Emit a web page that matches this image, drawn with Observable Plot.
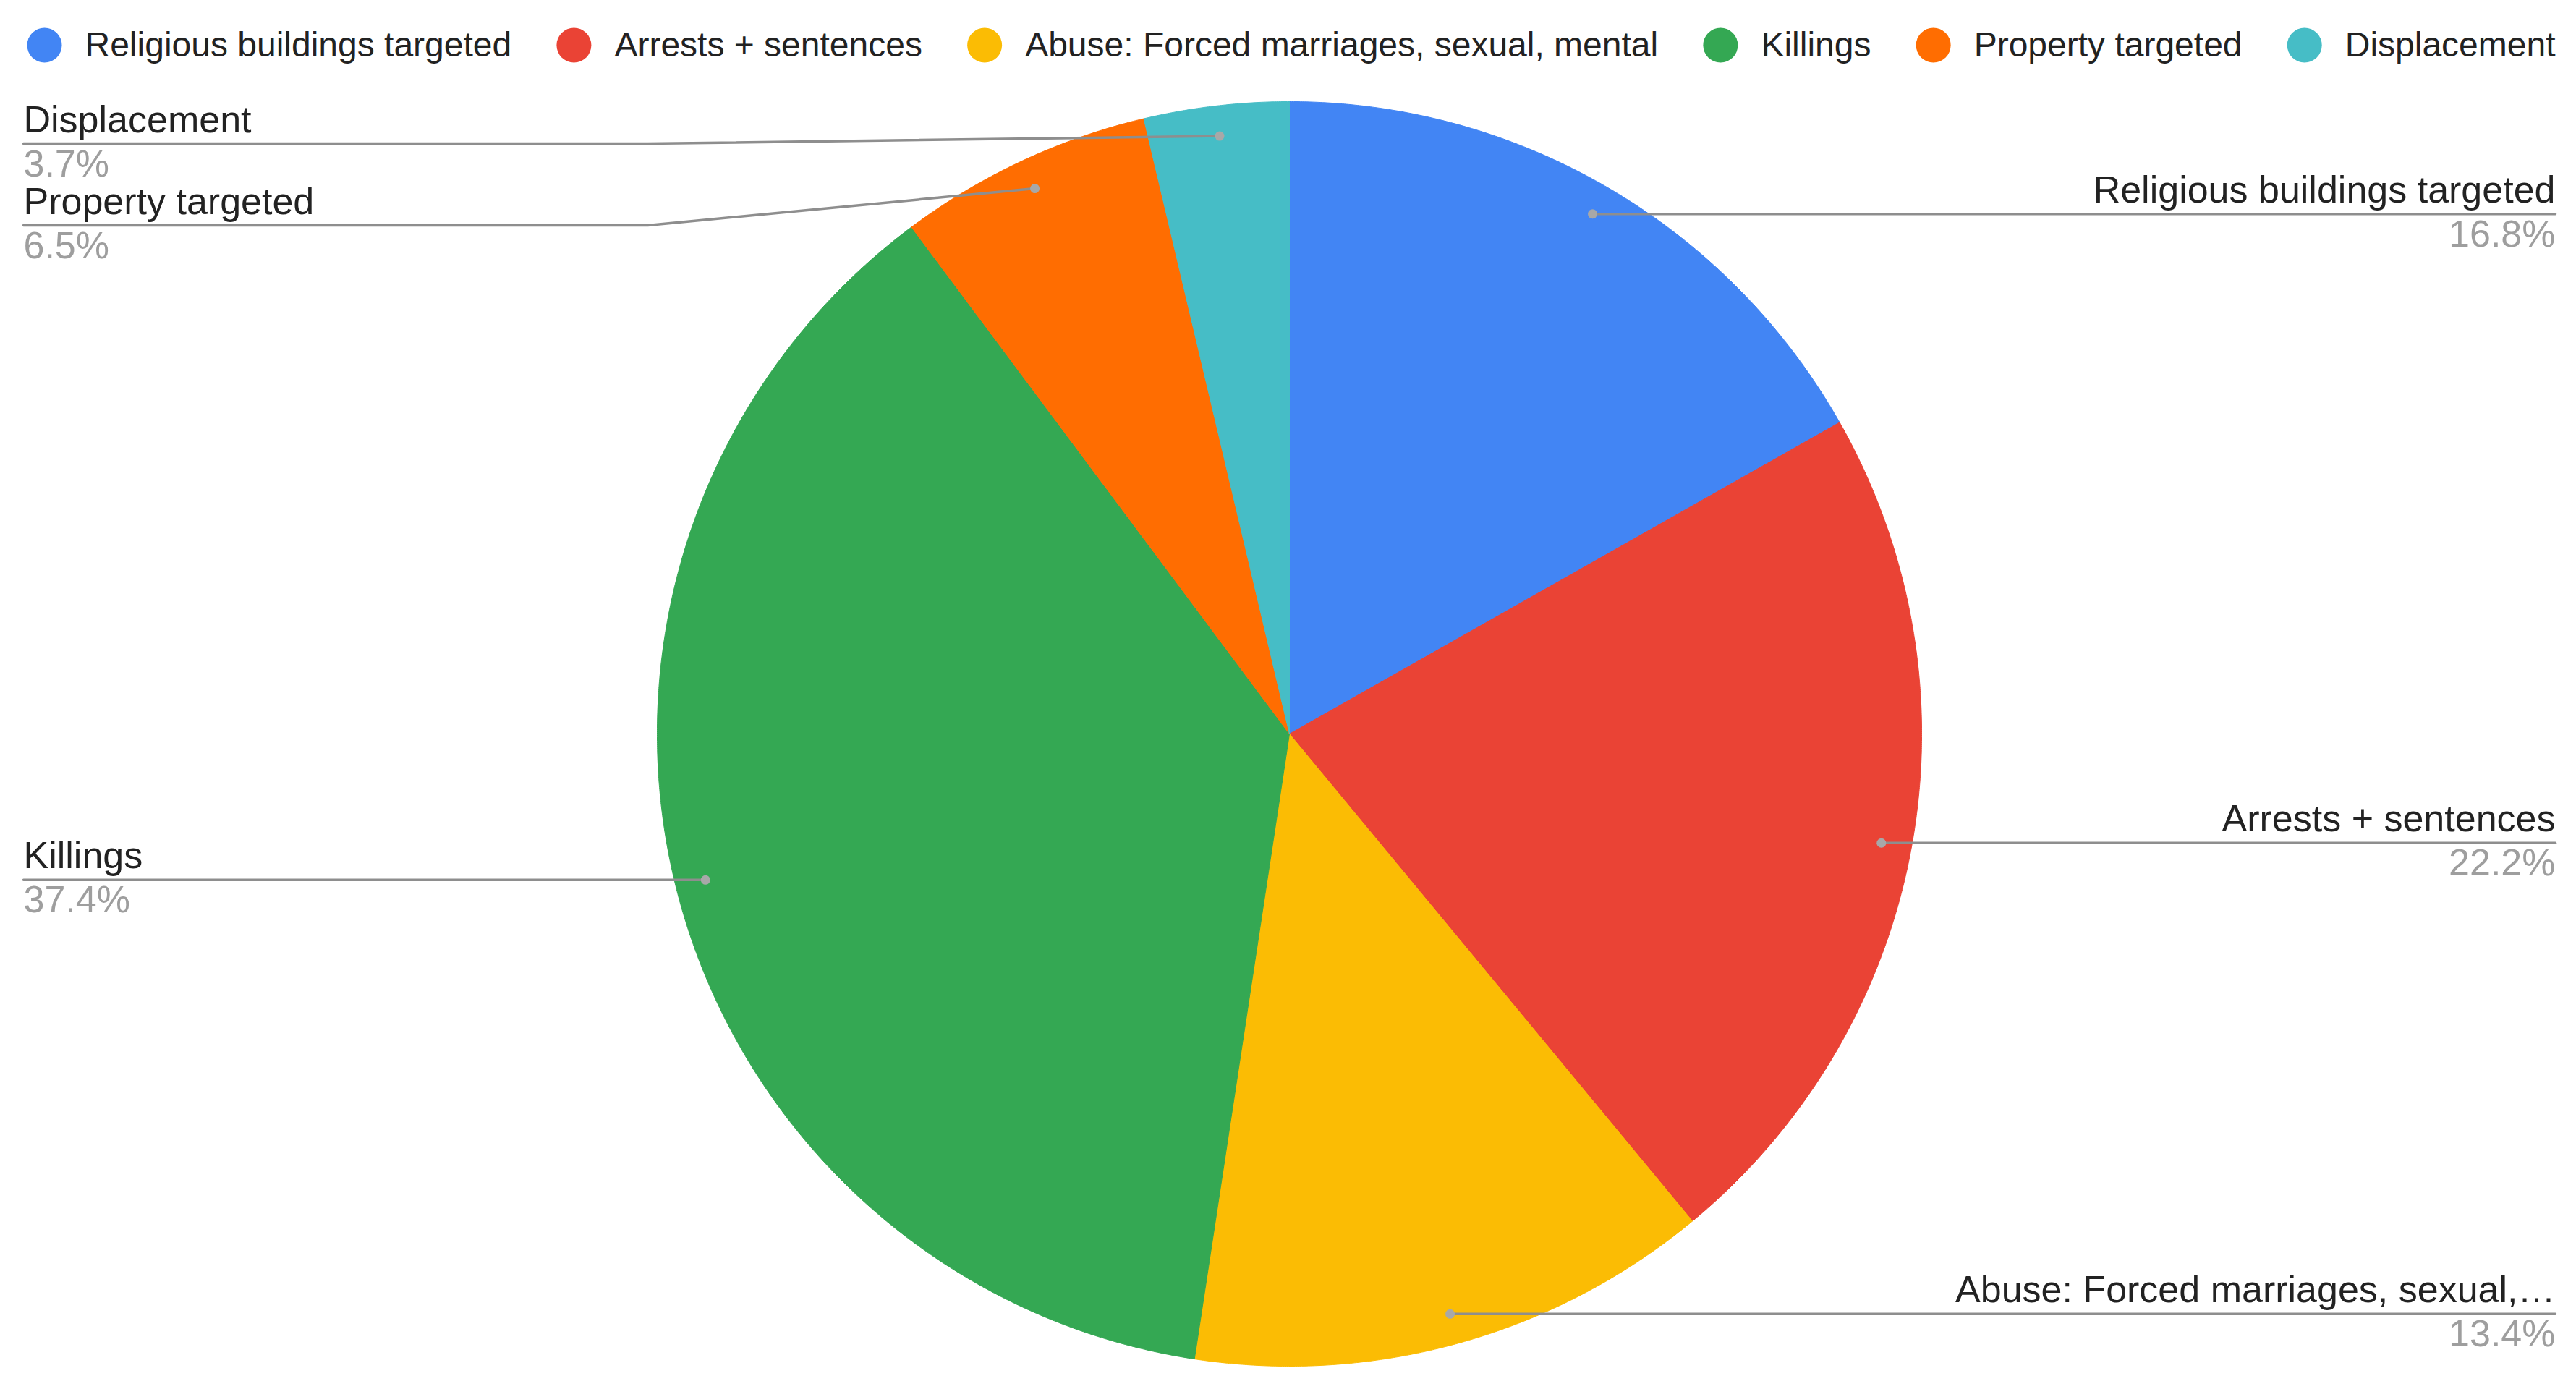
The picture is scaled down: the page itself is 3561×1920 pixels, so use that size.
<!DOCTYPE html>
<html>
<head>
<meta charset="utf-8">
<script src="https://cdn.jsdelivr.net/npm/d3@7"></script>
<script src="https://cdn.jsdelivr.net/npm/@observablehq/plot@0.6"></script>
<style>
  html, body { margin: 0; padding: 0; background: #ffffff; overflow: hidden; }
  #chart svg { display: block; }
</style>
</head>
<body>
<div id="chart"></div>
<script>
// ---------- data ----------
const categories = [
  "Religious buildings targeted",
  "Arrests + sentences",
  "Abuse: Forced marriages, sexual, mental",
  "Killings",
  "Property targeted",
  "Displacement"
];
const shares = [16.8, 22.2, 13.4, 37.4, 6.5, 3.7];
const sliceLabels = [
  "Religious buildings targeted",
  "Arrests + sentences",
  "Abuse: Forced marriages, sexual,\u2026",
  "Killings",
  "Property targeted",
  "Displacement"
];
const colors = ["#4285F4", "#EA4335", "#FBBC04", "#34A853", "#FF6D01", "#46BDC6"];

// ---------- layout ----------
const W = 3561, H = 1920;
const FONT = "'Liberation Sans', Arial, Helvetica, sans-serif";
const cx = 1782, cy = 1014, R = 874;
const dotFrac = 0.952;
const legendY = 62, legendR = 24, legendFont = 48, legendTextGap = 56, legendLeft = 61, legendRight = 3532;
const labelFont = 52, labelLeftX = 32, labelRightX = 3532;
const labelTop = 198, labelGap = 113;
const elbowPad = 13;

const total = d3.sum(shares);
let acc = 0;
const slices = shares.map((v, i) => {
  const a0 = acc / total * 2 * Math.PI;
  acc += v;
  const a1 = acc / total * 2 * Math.PI;
  return {cat: categories[i], label: sliceLabels[i], value: v, a0, a1, mid: (a0 + a1) / 2};
});

// pie polygons
const piePts = [];
for (const s of slices) {
  piePts.push({cat: s.cat, x: cx, y: cy});
  const n = Math.max(2, Math.ceil((s.a1 - s.a0) / (0.2 * Math.PI / 180)));
  for (let k = 0; k <= n; k++) {
    const a = s.a0 + (s.a1 - s.a0) * k / n;
    piePts.push({cat: s.cat, x: cx + R * Math.sin(a), y: cy - R * Math.cos(a)});
  }
  piePts.push({cat: s.cat, x: cx, y: cy});
}

// label placement
const fmt = d3.format(".1%");
const labels = slices.map(s => {
  const dx = cx + dotFrac * R * Math.sin(s.mid);
  const dy = cy - dotFrac * R * Math.cos(s.mid);
  const side = s.mid < Math.PI ? "right" : "left";
  return {cat: s.cat, label: s.label, pct: fmt(s.value / total), dx, dy, side, ly: dy};
});
for (const side of ["left", "right"]) {
  const group = labels.filter(d => d.side === side).sort((a, b) => a.dy - b.dy);
  let prev = -Infinity;
  for (const d of group) {
    d.ly = Math.max(d.dy, labelTop, prev + labelGap);
    prev = d.ly;
  }
}
const leaderPts = [];
for (const d of labels) {
  const ex = d.side === "right" ? cx + R + elbowPad : cx - R - elbowPad;
  const endX = d.side === "right" ? labelRightX : labelLeftX;
  leaderPts.push({cat: d.cat, x: d.dx, y: d.dy});
  leaderPts.push({cat: d.cat, x: ex, y: d.ly});
  leaderPts.push({cat: d.cat, x: endX, y: d.ly});
}
// text positions (Plot middle line anchor puts baseline at y + 0.32em)
const mid = 0.32;
for (const d of labels) {
  d.tx = d.side === "right" ? labelRightX : labelLeftX;
  d.nameY = d.ly - 16 - mid * labelFont;
  d.pctY = d.ly + 45 - mid * labelFont;
}

// legend layout
const ctx = document.createElement("canvas").getContext("2d");
ctx.font = `${legendFont}px ${FONT}`;
const widths = categories.map(c => ctx.measureText(c).width);
const gap = (legendRight - legendLeft - categories.length * legendTextGap - d3.sum(widths)) / (categories.length - 1);
let lx = legendLeft;
const legend = categories.map((c, i) => {
  const item = {cat: c, x: lx, tx: lx + legendTextGap, y: legendY};
  lx += legendTextGap + widths[i] + gap;
  return item;
});

const chart = Plot.plot({
  width: W,
  height: H,
  margin: 0,
  x: {domain: [0, W], range: [0, W], axis: null},
  y: {domain: [0, H], range: [0, H], axis: null},
  color: {domain: categories, range: colors},
  style: {fontFamily: FONT, background: "#ffffff", overflow: "visible"},
  marks: [
    Plot.line(piePts, {x: "x", y: "y", z: "cat", fill: "cat", stroke: "cat", strokeWidth: 1, curve: "linear"}),
    Plot.line(leaderPts, {x: "x", y: "y", z: "cat", stroke: "#8e8e8e", strokeWidth: 3.5, curve: "linear"}),
    Plot.dot(labels, {x: "dx", y: "dy", r: 6.5, fill: "#a8a8a8", stroke: null}),
    Plot.text(labels.filter(d => d.side === "left"), {x: "tx", y: "nameY", text: "label", textAnchor: "start", fontSize: labelFont, fill: "#222222", lineAnchor: "middle"}),
    Plot.text(labels.filter(d => d.side === "left"), {x: "tx", y: "pctY", text: "pct", textAnchor: "start", fontSize: labelFont, fill: "#9e9e9e", lineAnchor: "middle"}),
    Plot.text(labels.filter(d => d.side === "right"), {x: "tx", y: "nameY", text: "label", textAnchor: "end", fontSize: labelFont, fill: "#222222", lineAnchor: "middle"}),
    Plot.text(labels.filter(d => d.side === "right"), {x: "tx", y: "pctY", text: "pct", textAnchor: "end", fontSize: labelFont, fill: "#9e9e9e", lineAnchor: "middle"}),
    Plot.dot(legend, {x: "x", y: "y", r: legendR, fill: "cat", stroke: null}),
    Plot.text(legend, {x: "tx", y: "y", text: "cat", textAnchor: "start", fontSize: legendFont, fill: "#222222", lineAnchor: "middle"})
  ]
});
document.getElementById("chart").appendChild(chart);
</script>
</body>
</html>
